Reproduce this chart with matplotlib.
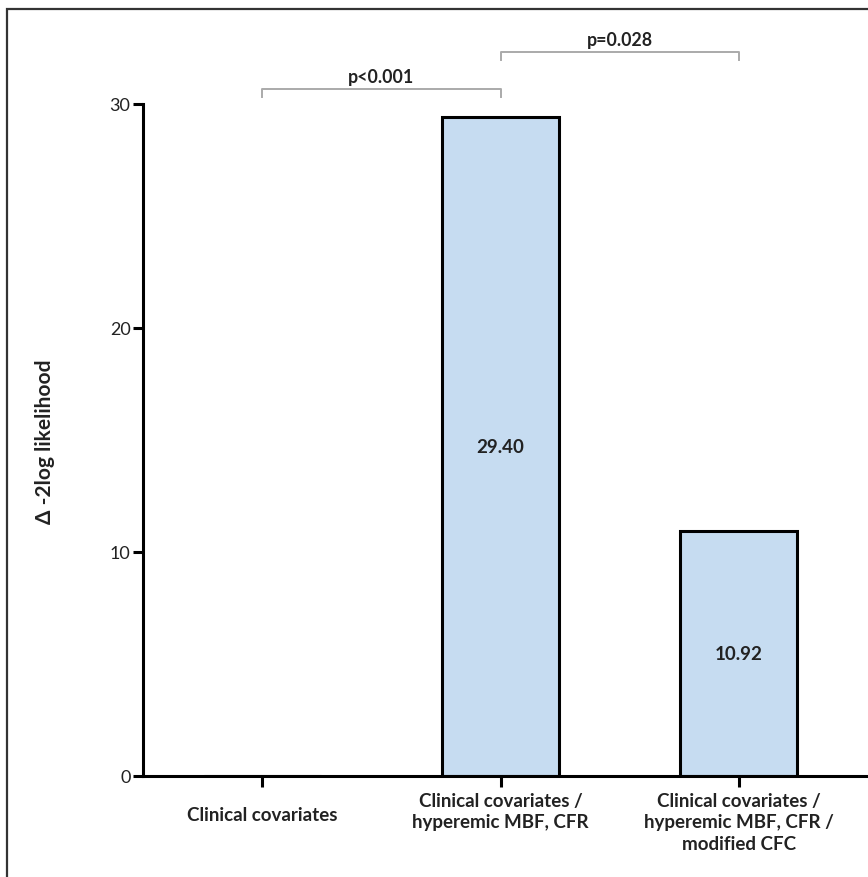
import matplotlib
matplotlib.use("Agg")
import matplotlib.pyplot as plt
from matplotlib.patches import Rectangle
from matplotlib import transforms

categories = ["Clinical covariates",
              "Clinical covariates /\nhyperemic MBF, CFR",
              "Clinical covariates /\nhyperemic MBF, CFR /\nmodified CFC"]
values = [0.0, 29.40, 10.92]
value_labels = ["", "29.40", "10.92"]
yticks = [0, 10, 20, 30]
brackets = [(0, 1, 30.67, "p<0.001"), (1, 2, 32.32, "p=0.028")]

plt.rcParams['font.family'] = ['Lato', 'DejaVu Sans']

fig = plt.figure(figsize=(8.68, 8.78), dpi=100)
fig.patches.append(Rectangle((7/868, -0.02), 1.05, 1 - 10/878 + 0.02,
                             transform=fig.transFigure, fill=False,
                             edgecolor='#333333', linewidth=1.6))

ax = fig.add_axes([143/868, 1 - 777/878, 1 - 143/868 + 0.005, (777 - 15.4)/878])
x = list(range(len(categories)))
ax.bar(x, values, width=0.49, color='#c6dcf1', edgecolor='black', linewidth=2.2, zorder=2)
for xi, v, lab in zip(x, values, value_labels):
    if lab:
        ax.text(xi, v / 2, lab, ha='center', va='center', fontsize=13.5, fontweight='bold',
                color='#222222')

ax.set_xlim(-0.5, 2.56)
ax.set_ylim(0, 34)
ax.spines['top'].set_visible(False)
ax.spines['right'].set_visible(False)
ax.spines['left'].set_bounds(0, 30)
ax.spines['left'].set_linewidth(2.2)
ax.spines['bottom'].set_linewidth(2.2)
ax.set_yticks(yticks)
ax.set_yticklabels([str(t) for t in yticks], fontsize=13, color='#222222')
ax.tick_params(axis='y', length=7, width=2.2, pad=2)
ax.set_xticks(x)
ax.set_xticklabels([])
ax.tick_params(axis='x', length=8, width=2.2)

for i, (xi, lab) in enumerate(zip(x, categories)):
    dy = -10 if i == 0 else 0
    t = transforms.offset_copy(ax.get_xaxis_transform(), fig=fig, x=0, y=-11.5 + dy, units='points')
    ax.text(xi, 0, lab, transform=t, ha='center', va='top', fontsize=13.5, fontweight='bold',
            linespacing=1.32, color='#222222')

for x0, x1, yb, lab in brackets:
    ax.plot([x0, x0, x1, x1], [yb - 0.36, yb, yb, yb - 0.36], color='#aaaaaa',
            linewidth=1.4, clip_on=False)
    ax.text((x0 + x1) / 2, yb + 0.2, lab, ha='center', va='bottom', fontsize=12.8,
            fontweight='bold', color='#222222')

fig.text(45/868, 1 - 442/878, "Δ -2log likelihood", rotation=90, ha='center', va='center',
         fontsize=15, fontweight='bold', color='#222222')

fig.savefig("out.png", dpi=100)
